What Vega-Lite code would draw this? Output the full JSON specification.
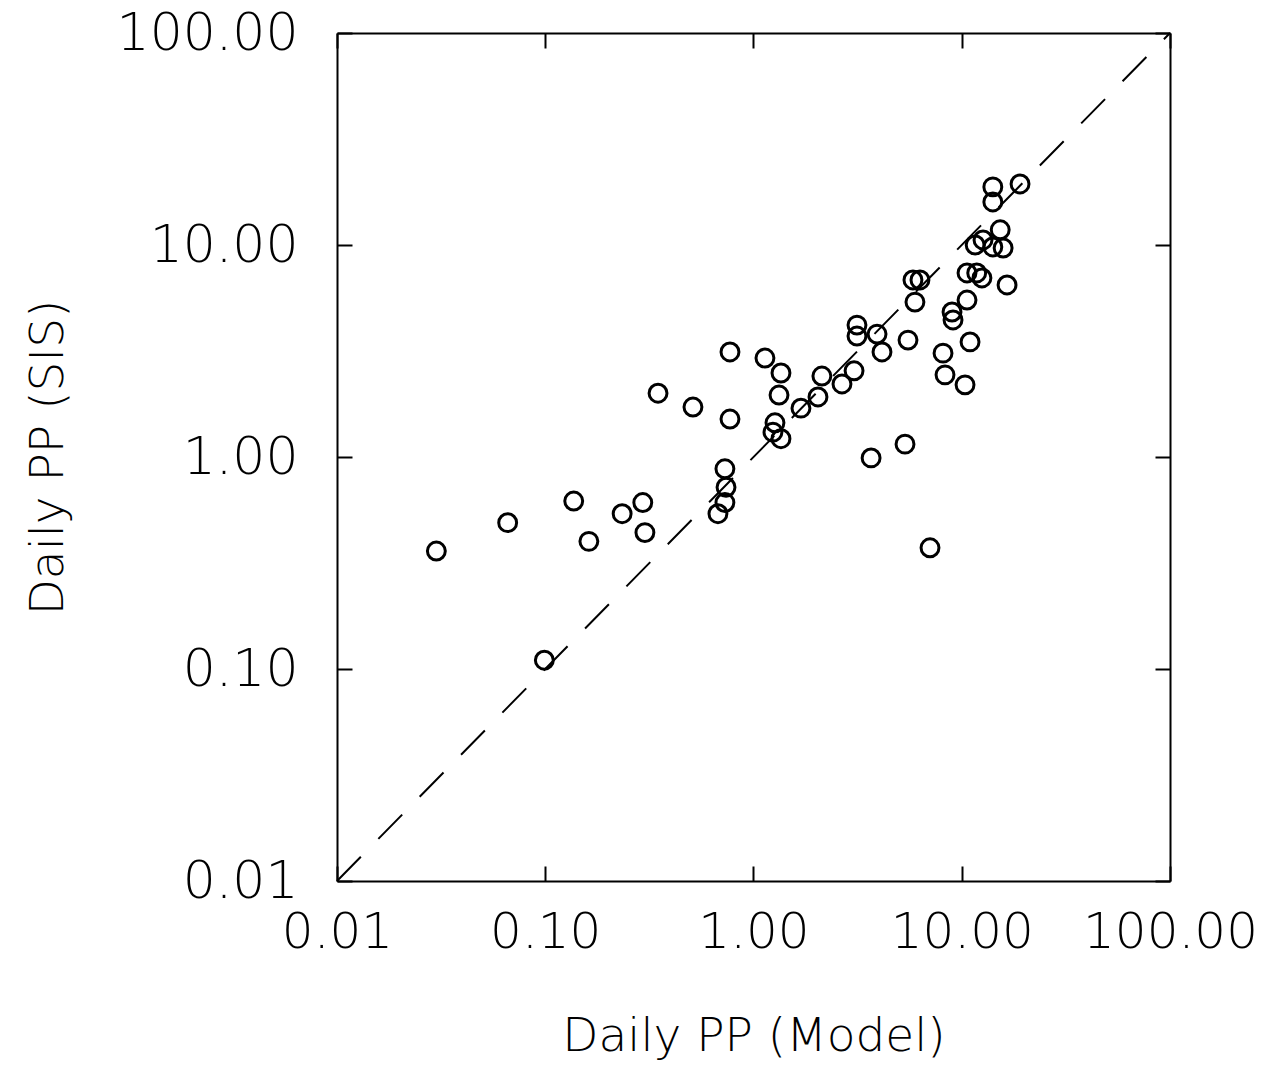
{
  "$schema": "https://vega.github.io/schema/vega-lite/v6.json",
  "width": 833,
  "height": 848,
  "autosize": {"type": "none"},
  "padding": {"left": 337, "top": 33, "right": 104, "bottom": 193},
  "background": "white",
  "config": {
    "view": {"stroke": null},
    "axis": {
      "domainColor": "black",
      "domainWidth": 2,
      "tickColor": "black",
      "tickWidth": 2,
      "grid": false,
      "labelColor": "black",
      "titleColor": "black",
      "labelFlush": false,
      "labelOverlap": false,
      "labelBound": false,
      "labelLimit": 0
    }
  },
  "layer": [
    {
      "data": {"values": [{"m": 0.01, "s": 0.01}, {"m": 100, "s": 100}]},
      "mark": {"type": "line", "stroke": "black", "strokeWidth": 2, "strokeDash": [34, 25]},
      "encoding": {
        "x": {
          "field": "m", "type": "quantitative",
          "scale": {"type": "log", "domain": [0.01, 100], "nice": false},
          "axis": {"orient": "top", "values": [0.01, 0.1, 1, 10, 100], "labels": false, "title": null, "tickSize": -15, "domain": true}
        },
        "y": {
          "field": "s", "type": "quantitative",
          "scale": {"type": "log", "domain": [0.01, 100], "nice": false},
          "axis": {"orient": "right", "values": [0.01, 0.1, 1, 10, 100], "labels": false, "title": null, "tickSize": -15, "domain": true}
        }
      }
    },
    {
      "data": {"values": [
        {"m": 0.030, "s": 0.36}, {"m": 0.066, "s": 0.49}, {"m": 0.099, "s": 0.110},
        {"m": 0.137, "s": 0.62}, {"m": 0.162, "s": 0.40}, {"m": 0.234, "s": 0.54},
        {"m": 0.294, "s": 0.61}, {"m": 0.301, "s": 0.44}, {"m": 0.348, "s": 2.00},
        {"m": 0.512, "s": 1.72}, {"m": 0.771, "s": 3.13}, {"m": 0.771, "s": 1.51},
        {"m": 0.729, "s": 0.88}, {"m": 0.738, "s": 0.72}, {"m": 0.729, "s": 0.61},
        {"m": 0.675, "s": 0.54}, {"m": 1.135, "s": 2.93}, {"m": 1.355, "s": 2.49},
        {"m": 1.326, "s": 1.96}, {"m": 1.268, "s": 1.45}, {"m": 1.240, "s": 1.31},
        {"m": 1.355, "s": 1.22}, {"m": 1.69, "s": 1.70}, {"m": 2.04, "s": 1.92},
        {"m": 2.13, "s": 2.41}, {"m": 2.66, "s": 2.21}, {"m": 3.04, "s": 2.55},
        {"m": 3.14, "s": 4.19}, {"m": 3.14, "s": 3.72}, {"m": 3.92, "s": 3.80},
        {"m": 4.14, "s": 3.13}, {"m": 5.52, "s": 3.56}, {"m": 5.34, "s": 1.15},
        {"m": 3.67, "s": 0.99}, {"m": 7.04, "s": 0.373}, {"m": 5.96, "s": 5.38},
        {"m": 5.83, "s": 6.84}, {"m": 6.30, "s": 6.84}, {"m": 10.6, "s": 7.38},
        {"m": 11.8, "s": 7.38}, {"m": 12.5, "s": 6.99}, {"m": 16.5, "s": 6.48},
        {"m": 10.6, "s": 5.50}, {"m": 8.98, "s": 4.83}, {"m": 9.08, "s": 4.43},
        {"m": 10.96, "s": 3.49}, {"m": 8.13, "s": 3.09}, {"m": 8.31, "s": 2.44},
        {"m": 10.37, "s": 2.19}, {"m": 14.1, "s": 18.8}, {"m": 14.1, "s": 15.96},
        {"m": 19.05, "s": 19.4}, {"m": 15.3, "s": 11.8}, {"m": 11.6, "s": 10.0},
        {"m": 12.65, "s": 10.56}, {"m": 14.1, "s": 9.79}, {"m": 15.8, "s": 9.68}
      ]},
      "mark": {"type": "point", "shape": "circle", "filled": false, "stroke": "black", "strokeWidth": 3, "size": 320, "opacity": 1},
      "encoding": {
        "x": {
          "field": "m", "type": "quantitative",
          "scale": {"type": "log", "domain": [0.01, 100], "nice": false},
          "axis": {
            "orient": "bottom", "values": [0.01, 0.1, 1, 10, 100], "format": ".2f",
            "tickSize": -15, "labelPadding": 41,
            "labelFont": "DejaVu Sans", "labelFontSize": 50, "labelFontWeight": 200,
            "title": "Daily PP (Model)", "titleFont": "DejaVu Sans", "titleFontSize": 47, "titleFontWeight": 200,
            "titleX": 416.5, "titleY": 169, "titleBaseline": "alphabetic", "titleAlign": "center"
          }
        },
        "y": {
          "field": "s", "type": "quantitative",
          "scale": {"type": "log", "domain": [0.01, 100], "nice": false},
          "axis": {
            "orient": "left", "values": [0.01, 0.1, 1, 10, 100], "format": ".2f",
            "tickSize": -15, "labelPadding": 54,
            "labelFont": "DejaVu Sans", "labelFontSize": 52, "labelFontWeight": 200,
            "title": "Daily PP (SIS)", "titleFont": "DejaVu Sans", "titleFontSize": 47, "titleFontWeight": 200,
            "titleX": -275, "titleY": 424, "titleAngle": 270, "titleBaseline": "alphabetic", "titleAlign": "center"
          }
        }
      }
    }
  ],
  "resolve": {
    "scale": {"x": "independent", "y": "independent"},
    "axis": {"x": "independent", "y": "independent"}
  }
}
